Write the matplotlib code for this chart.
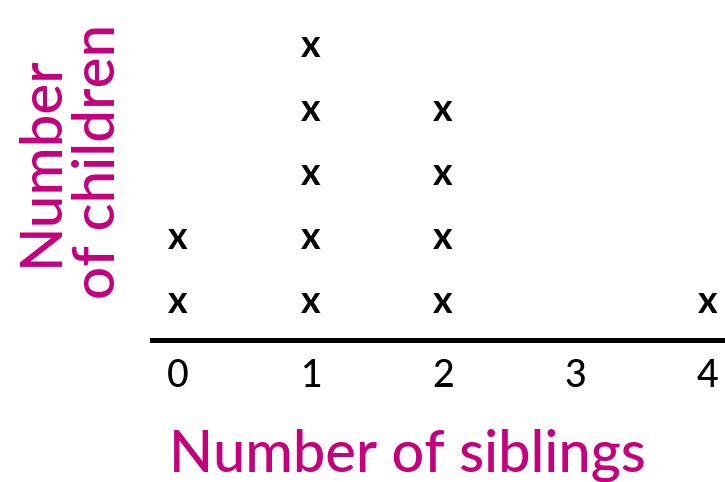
import matplotlib
matplotlib.use("Agg")
import matplotlib.pyplot as plt

siblings = [0, 1, 2, 3, 4]
children = [2, 5, 4, 0, 1]
tick_labels = ["0", "1", "2", "3", "4"]
xlabel = "Number of siblings"
ylabel = "Number\nof children"

MAGENTA = "#c4007c"
FONT = "Lato"

W, H = 725, 482
fig = plt.figure(figsize=(W / 100, H / 100), dpi=100)
ax = fig.add_axes([152 / W, (H - 340) / H, (W - 152) / W, 340 / H])
ax.set_xlim(-26 / 132.5, 4 + 17 / 132.5)
ax.set_ylim(0.375, 1 + 300 / 64)

for s, c in zip(siblings, children):
    for k in range(1, c + 1):
        ax.annotate("x", (s, k), xytext=(0, -13 * 0.72), textcoords="offset points",
                    ha="center", va="baseline", fontsize=27, family=FONT,
                    fontweight="bold", color="black")

for side in ["top", "left", "right"]:
    ax.spines[side].set_visible(False)
ax.spines["bottom"].set_linewidth(3.6)
ax.spines["bottom"].set_color("black")
ax.set_yticks([])
ax.set_xticks(siblings)
ax.set_xticklabels(tick_labels, family=FONT, fontsize=27, color="black",
                   fontweight="medium")
ax.tick_params(axis="x", length=0, pad=14)

fig.text(407 / W, 10 / H, xlabel, ha="center", va="baseline",
         fontsize=41.5, family=FONT, color=MAGENTA, fontweight="medium")
fig.text(70 / W, 1 - 161 / H, ylabel, ha="center", va="center", rotation=90,
         multialignment="center", linespacing=1.1,
         fontsize=42, family=FONT, color=MAGENTA, fontweight="medium")

fig.savefig("out.png", dpi=100)
